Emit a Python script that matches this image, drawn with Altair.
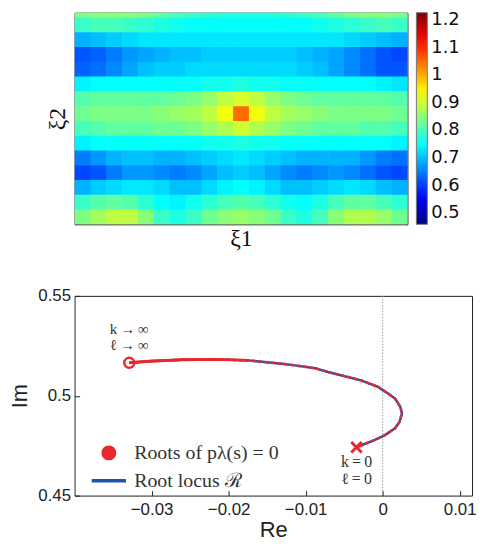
import altair as alt
import pandas as pd

RED = "#e8282d"
BLUE = "#1f55a8"

# ---------------- heat map (rows top -> bottom, columns left -> right) ----------------
heat_rows = [
    [0.84, 0.85, 0.85, 0.85, 0.84, 0.82, 0.80, 0.79, 0.78, 0.77, 0.77, 0.77, 0.77, 0.78, 0.79, 0.80, 0.82, 0.84, 0.85, 0.85, 0.84],
    [0.79, 0.80, 0.80, 0.79, 0.78, 0.77, 0.76, 0.75, 0.75, 0.75, 0.75, 0.75, 0.75, 0.75, 0.75, 0.76, 0.77, 0.78, 0.79, 0.80, 0.79],
    [0.69, 0.70, 0.71, 0.72, 0.73, 0.73, 0.73, 0.73, 0.73, 0.73, 0.73, 0.73, 0.73, 0.73, 0.73, 0.73, 0.73, 0.72, 0.71, 0.70, 0.69],
    [0.62, 0.63, 0.65, 0.67, 0.68, 0.69, 0.70, 0.70, 0.71, 0.71, 0.71, 0.71, 0.71, 0.71, 0.70, 0.69, 0.68, 0.66, 0.64, 0.62, 0.61],
    [0.63, 0.64, 0.66, 0.68, 0.70, 0.71, 0.71, 0.72, 0.72, 0.72, 0.72, 0.72, 0.72, 0.72, 0.71, 0.70, 0.68, 0.66, 0.64, 0.62, 0.62],
    [0.74, 0.75, 0.75, 0.75, 0.75, 0.75, 0.75, 0.75, 0.76, 0.76, 0.77, 0.76, 0.76, 0.75, 0.75, 0.75, 0.75, 0.75, 0.75, 0.74, 0.73],
    [0.81, 0.82, 0.82, 0.82, 0.82, 0.82, 0.83, 0.84, 0.86, 0.89, 0.91, 0.89, 0.86, 0.84, 0.83, 0.82, 0.82, 0.82, 0.82, 0.82, 0.81],
    [0.83, 0.84, 0.84, 0.84, 0.84, 0.85, 0.86, 0.87, 0.89, 0.93, 1.05, 0.93, 0.89, 0.87, 0.86, 0.85, 0.84, 0.84, 0.84, 0.84, 0.83],
    [0.80, 0.81, 0.82, 0.82, 0.82, 0.83, 0.83, 0.84, 0.86, 0.88, 0.90, 0.88, 0.86, 0.84, 0.83, 0.82, 0.82, 0.82, 0.81, 0.81, 0.80],
    [0.74, 0.75, 0.75, 0.75, 0.75, 0.75, 0.75, 0.75, 0.76, 0.76, 0.77, 0.76, 0.76, 0.75, 0.75, 0.75, 0.75, 0.75, 0.75, 0.75, 0.74],
    [0.65, 0.67, 0.69, 0.70, 0.70, 0.69, 0.69, 0.70, 0.71, 0.72, 0.73, 0.72, 0.71, 0.70, 0.69, 0.69, 0.69, 0.69, 0.67, 0.65, 0.64],
    [0.61, 0.62, 0.65, 0.67, 0.67, 0.66, 0.65, 0.66, 0.68, 0.70, 0.71, 0.70, 0.68, 0.66, 0.65, 0.66, 0.67, 0.66, 0.64, 0.62, 0.61],
    [0.69, 0.71, 0.72, 0.73, 0.73, 0.72, 0.70, 0.70, 0.72, 0.74, 0.75, 0.74, 0.72, 0.70, 0.70, 0.71, 0.72, 0.73, 0.72, 0.70, 0.69],
    [0.79, 0.81, 0.82, 0.81, 0.78, 0.75, 0.74, 0.76, 0.78, 0.80, 0.81, 0.80, 0.78, 0.76, 0.75, 0.77, 0.80, 0.82, 0.82, 0.80, 0.78],
    [0.84, 0.87, 0.89, 0.89, 0.85, 0.79, 0.77, 0.79, 0.83, 0.85, 0.86, 0.85, 0.83, 0.79, 0.77, 0.80, 0.85, 0.88, 0.88, 0.86, 0.83],
]
cbar_ticks = [0.5, 0.6, 0.7, 0.8, 0.9, 1.0, 1.1, 1.2]
jet_domain = [0.46, 0.556, 0.748, 0.939, 1.131, 1.227]
jet_colors = ["#000080", "#0000ff", "#00ffff", "#ffff00", "#ff0000", "#800000"]

# ---------------- root locus (from k -> inf to k = 0) ----------------
locus_re = [-0.0329, -0.0303, -0.0260, -0.0217, -0.0174, -0.0131, -0.0114, -0.0088, -0.0071,
            -0.0028, -0.0006, 0.0007, 0.0016, 0.0023, 0.0025, 0.0022, 0.0016, 0.0003, -0.0010, -0.0034]
locus_im = [0.5165, 0.5173, 0.5180, 0.5182, 0.5177, 0.5160, 0.5152, 0.5138, 0.5119,
            0.5077, 0.5044, 0.5011, 0.4986, 0.4944, 0.4911, 0.4870, 0.4837, 0.4803, 0.4779, 0.4742]
legend_labels = ["Roots of pλ(s) = 0", "Root locus ℛ"]
legend_shapes = ["circle", "M-3,0H3"]   # filled dot, long horizontal stroke
start_text = "k\u2009→\u2009∞\nℓ\u2009→\u2009∞"
end_text = "k\u2009=\u20090\nℓ\u2009=\u20090"
re_ticks = [-0.03, -0.02, -0.01, 0.0, 0.01]
im_ticks = [0.45, 0.5, 0.55]
re_domain = [-0.04, 0.0116]
im_domain = [0.45, 0.55]

# ---------------- tables ----------------
n_rows = len(heat_rows)
n_cols = len(heat_rows[0])
cells = []
for r, row in enumerate(heat_rows):
    for c, v in enumerate(row):
        cells.append({"c": c, "c2": c + 1, "r": r, "r2": r + 1, "v": v})
heat_df = pd.DataFrame(cells)

locus_df = pd.DataFrame({"i": list(range(len(locus_re))), "re": locus_re, "im": locus_im})
n = len(locus_re)
ann_df = pd.DataFrame({"re": [locus_re[0], locus_re[-1]], "im": [locus_im[0], locus_im[-1]],
                       "text": [start_text, end_text], "which": ["start", "end"]})
zero_df = pd.DataFrame({"re": [0.0]})
leg_df = pd.DataFrame({"label": legend_labels})

# ---------------- top: heat map ----------------
jet = alt.Scale(domain=jet_domain, range=jet_colors, interpolate="rgb")
heat = alt.Chart(heat_df).mark_rect(clip=True, x2Offset=0.6, y2Offset=0.6).encode(
    x=alt.X("c:Q", scale=alt.Scale(domain=[0, n_cols], nice=False, zero=False),
            axis=alt.Axis(title="ξ1", labels=False, ticks=False, domain=False, grid=False,
                          titleFont="Liberation Serif", titleFontSize=24, titleFontWeight="normal",
                          titleColor="#111", titlePadding=2)),
    x2="c2:Q",
    y=alt.Y("r:Q", scale=alt.Scale(domain=[0.675, n_rows], reverse=True, nice=False, zero=False),
            axis=alt.Axis(title="ξ2", labels=False, ticks=False, domain=False, grid=False,
                          titleFont="Liberation Serif", titleFontSize=24, titleFontWeight="normal",
                          titleColor="#111", titlePadding=5)),
    y2="r2:Q",
    color=alt.Color("v:Q", scale=jet,
                    legend=alt.Legend(type="gradient", title=None, values=cbar_ticks, format=".1~f",
                                      orient="right", offset=9, padding=0, gradientLength=213,
                                      gradientThickness=11, gradientStrokeColor="#777",
                                      gradientStrokeWidth=1, labelFont="DejaVu Sans", labelFontSize=18,
                                      labelColor="#111", labelOffset=4, labelOverlap=False,
                                      direction="vertical")),
).properties(width=335, height=213)

# ---------------- bottom: root locus ----------------
# ticks point inward: axis pulled 5px into the plot (offset=-5) with 5px ticks
x_axis = alt.Axis(values=re_ticks, format=".2~f", title="Re", labelFont="Liberation Sans",
                  labelFontSize=17, labelColor="#222", titleFont="Liberation Sans", titleFontSize=22,
                  titleFontWeight="normal", titleColor="#222", grid=False, domain=False,
                  offset=-5, tickSize=5, tickColor="#222", labelPadding=6, titlePadding=2,
                  labelFlush=False)
y_axis = alt.Axis(values=im_ticks, format=".2~f", title="Im", labelFont="Liberation Sans",
                  labelFontSize=17, labelColor="#222", titleFont="Liberation Sans", titleFontSize=22,
                  titleFontWeight="normal", titleColor="#222", grid=False, domain=False,
                  offset=-5, tickSize=5, tickColor="#222", labelPadding=4, titlePadding=6)
xs = alt.Scale(domain=re_domain, nice=False, zero=False)
ys = alt.Scale(domain=im_domain, nice=False, zero=False)

zero_rule = alt.Chart(zero_df).mark_rule(color="#999999", strokeDash=[1.5, 1.5], strokeWidth=1).encode(
    x=alt.X("re:Q", scale=xs, axis=x_axis))

base = alt.Chart(locus_df)
blue_line = base.mark_line(color=BLUE, strokeWidth=2.5).encode(
    x=alt.X("re:Q", scale=xs, axis=x_axis), y=alt.Y("im:Q", scale=ys, axis=y_axis), order="i:Q")
red_dash = base.mark_line(color=RED, strokeWidth=2.6, strokeDash=[4, 2.5]).encode(
    x="re:Q", y="im:Q", order="i:Q")
red_solid = base.transform_filter(alt.datum.re <= -0.017).mark_line(color=RED, strokeWidth=3).encode(
    x="re:Q", y="im:Q", order="i:Q")
start_pt = base.transform_filter(alt.datum.i == 0).mark_point(
    shape="circle", filled=False, color=RED, strokeWidth=2.5, size=100, opacity=1).encode(x="re:Q", y="im:Q")
end_pt = base.transform_filter(alt.datum.i == n - 1).mark_point(
    shape="M-1,-1L1,1M-1,1L1,-1", filled=False, color=RED, strokeWidth=3, size=110, opacity=1).encode(
    x="re:Q", y="im:Q")

ann_base = alt.Chart(ann_df)
start_txt = ann_base.transform_filter(alt.datum.which == "start").mark_text(
    font="Liberation Serif", fontSize=15, color="#333", baseline="bottom", align="center",
    lineBreak="\n", lineHeight=16, dy=-26).encode(x="re:Q", y="im:Q", text="text:N")
end_txt = ann_base.transform_filter(alt.datum.which == "end").mark_text(
    font="Liberation Serif", fontSize=16, color="#333", baseline="top", align="center",
    lineBreak="\n", lineHeight=17, dy=7).encode(x="re:Q", y="im:Q", text="text:N")

leg = alt.Legend(title=None, orient="none", legendX=24.5, legendY=148, padding=0,
                 labelFont="Liberation Serif", labelFontSize=20, labelColor="#333",
                 labelOffset=15.5, labelLimit=400, symbolSize=132, symbolStrokeWidth=3.5,
                 symbolOpacity=1, rowPadding=5)
legend_layer = alt.Chart(leg_df).mark_point(opacity=0, size=132).encode(
    fill=alt.Fill("label:N", scale=alt.Scale(domain=legend_labels, range=[RED, "transparent"]), legend=leg),
    stroke=alt.Stroke("label:N", scale=alt.Scale(domain=legend_labels, range=[RED, BLUE]), legend=leg),
    shape=alt.Shape("label:N", scale=alt.Scale(domain=legend_labels, range=legend_shapes), legend=leg),
    x=alt.value(0), y=alt.value(0))

bottom = alt.layer(zero_rule, blue_line, red_dash, red_solid, start_pt, end_pt, start_txt, end_txt,
                   legend_layer).properties(width=400, height=201)

chart = alt.vconcat(heat, bottom, spacing=72, bounds="flush").resolve_scale(
    color="independent", fill="independent", stroke="independent", shape="independent",
    size="independent").resolve_legend(
    color="independent", fill="independent", stroke="independent", shape="independent",
    size="independent").properties(
    padding={"left": 0, "top": 2, "right": 0, "bottom": 0}).configure_view(stroke="#222", strokeWidth=1)

chart.save("out.html", embed_options={"renderer": "svg", "actions": False})
